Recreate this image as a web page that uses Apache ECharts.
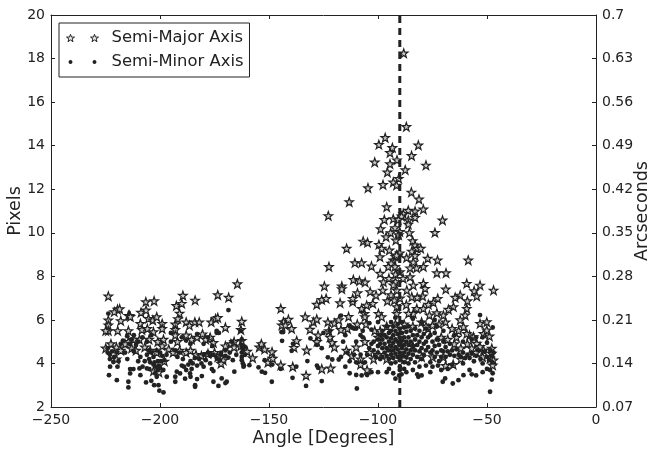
<!DOCTYPE html>
<html><head><meta charset="utf-8">
<style>html,body{margin:0;padding:0;background:#fff}#c{width:649px;height:451px}</style>
<script src="https://cdn.jsdelivr.net/npm/echarts@6/dist/echarts.min.js"></script>
</head><body><div id="c"></div>
<script>
const rightTickLabels = ['0.07','0.14','0.21','0.28','0.35','0.42','0.49','0.56','0.63','0.7'];
const targetAngle = [-90, -90];
const targetPixels = [2, 20];
const majorPoints = [
[-223.7,7.09],[-219.5,6.48],[-221,6.37],[-218.5,6.5],[-223.7,5.99],[-223.7,5.76],[-223.7,5.5],[-224.9,5.5],[-218,5.96],[-219.4,5.5],[-214.5,5.5],[-214.5,6.2],[-214,6.2],[-213.6,6.15],[-206.5,6.83],[-202.7,6.87],[-208.7,6.34],[-206.4,6.45],[-209,5.83],[-205.3,6.06],[-203.3,5.99],[-201.5,6.14],[-199,5.83],[-199,5.6],[-208.3,5.55],[-205.8,5.6],[-203,5.45],[-209.4,5.1],[-205,5.1],[-201,5],[-198.4,5.1],[-214.5,5],[-212,5.1],[-216,4.9],[-224.9,4.7],[-222.5,4.9],[-220,4.75],[-218,4.6],[-213,4.7],[-211,4.6],[-207,4.75],[-204.5,4.6],[-201.5,4.5],[-199,4.8],[-196,4.65],[-194,4.5],[-191,4.6],[-220,4.2],[-203,3.65],[-200.5,3.6],[-198,4.1],
[-193,5.8],[-191,6.3],[-192.5,6.65],[-190,6.75],[-189.5,7.12],[-191.8,6.05],[-188,5.9],[-186.5,5.75],[-193,5.55],[-193,5.3],[-192,5],[-188,5.3],[-185.5,5.1],[-183,5.2],[-180.5,5.35],[-179,5.1],[-177,5.2],[-175.5,4.95],[-184,5.9],[-182,5.9],[-183.9,6.9],[-176.5,5.9],[-174.5,6.05],[-173.5,6.1],[-173.5,7.15],[-168.5,7.03],[-170,5.65],[-164.5,7.65],[-162.5,5.93],[-162.9,5.55],[-162.5,5.05],[-188,4.5],[-186,4.6],[-183.5,4.4],[-181,4.35],[-178,4.45],[-175,4.5],[-173.5,4.3],[-171,4.15],[-172,4],[-170,4.8],[-167.5,4.9],[-166,5],[-166,4.75],[-163,4.8],[-160,4.55],[-157.5,4.25],[-154.5,4.75],[-153.5,4.9],[-152,4.65],[-150.5,4.05],[-148.6,4.53],[-148.3,4.23],
[-144.6,6.52],[-143.4,5.91],[-141.1,6.02],[-144.1,5.76],[-142.5,5.76],[-139.6,5.6],[-133.4,6.14],[-129.6,5.91],[-128.1,6.03],[-131.2,5.56],[-137.3,5.04],[-138.5,4.73],[-132.7,4.61],[-144.6,3.92],[-139.1,3.85],[-133,3.45],[-125.8,3.75],[-121.7,3.78],[-128.1,6.71],[-125.8,6.93],[-123.8,6.98],[-124.6,7.55],[-116.6,7.55],[-116.6,7.42],[-111.3,7.85],[-108.5,7.79],[-105.9,7.73],[-109.4,7.24],[-117.4,6.78],[-111.6,6.83],[-111.6,6.98],[-103.6,7.29],[-100.9,7.13],[-123,5.9],[-120,5.85],[-118,6],[-113.5,6.15],[-122.5,5.5],[-117,5.55],[-114,5.6],[-109.5,5.8],[-105.5,5.8],[-127.5,5.3],[-128,5],[-122,5.2],[-121,4.95],[-120,4.75],[-114.5,4.6],[-110,4.75],[-112,4.35],[-108,4.2],[-108,3.95],[-105,3.7],[-102,4.2],[-106,5],[-100,5.2],[-101.5,5.5],[-99,5.5],[-96,5.7],[-92,5.8],[-88,5.8],[-84,5.7],[-80,5.9],[-77,5.6],[-71,5.2],[-68,5.1],[-64,5.2],[-58,5.3],
[-88.2,18.25],[-87,14.87],[-96.7,14.37],[-99.6,14.05],[-93.4,13.91],[-94.5,13.68],[-81.5,14.02],[-84.6,13.54],[-101.5,13.24],[-94.5,13.16],[-91.3,13.34],[-78,13.1],[-87.5,12.89],[-95.7,12.78],[-90.5,12.49],[-97.7,12.21],[-93,12.32],[-91.5,12.18],[-104.6,12.06],[-84.7,11.86],[-81.2,11.54],[-113.2,11.42],[-96,11.19],[-79.2,11.08],[-122.8,10.78],[-83,10.99],[-86.1,11.03],[-88.4,10.88],[-89.2,10.76],[-83,10.7],[-97.1,10.6],[-93,10.64],[-90.7,10.6],[-86.1,10.58],[-86.1,10.39],[-70.4,10.58],[-73.9,10.01],[-98.8,10.18],[-92.2,10.23],[-90,10.05],[-85.6,10],[-94.2,10],[-96.3,9.81],[-91.8,9.66],[-90.5,9.9],[-106.8,9.61],[-104.8,9.55],[-114.4,9.28],[-99.6,9.46],[-98.3,9.28],[-94.8,9.2],[-84.1,9.63],[-83,9.43],[-82,9.28],[-80.4,9.28],[-99.1,8.89],[-90,9.07],[-91,8.95],[-84.5,9.15],[-83,8.95],[-86.9,8.85],[-77.2,8.82],[-72.7,8.74],[-58.6,8.74],[-110.6,8.62],[-107.5,8.62],[-103,8.47],[-122.5,8.44],[-93,8.74],[-92,8.9],[-91.5,8.97],[-94,8.6],[-95.3,8.44],[-92.2,8.44],[-83.8,8.65],[-79.2,8.44],[-82.3,8.38],[-85.3,8.38],[-99,8.13],[-97.5,7.74],[-97.8,7.36],[-95.7,6.87],[-102.4,6.75],[-105.2,6.67],[-107.5,6.52],[-106.2,6.29],[-106,6.14],[-92,7.75],[-91.4,7.36],[-89.9,7],[-86.8,7.36],[-83.8,7.59],[-85.3,7.97],[-84.5,7.05],[-79.2,7.67],[-78.4,7.44],[-79.5,7.09],[-82,7.03],[-73,8.16],[-68.8,8.16],[-68.9,7.41],[-59.3,7.67],[-53.2,7.59],[-55.9,7.33],[-54.7,7.09],[-47,7.36],[-62.3,7.13],[-64.6,7.03],[-59,6.87],[-72.6,6.98],[-74.6,6.8],[-76.9,6.71],[-65.4,6.6],[-67.7,6.48],[-59.3,6.52],[-82.2,6.52],[-79.2,6.52],[-76.4,6.22],[-73,6.32],[-70,6.22],[-60,6.22],[-99.8,6.29],[-98.3,6.14],[-91.4,6.6],[-91.4,6.29],[-83.8,6.29],[-92,8.1],[-93,7.6],[-95,7.9],[-90,8.2],[-88.5,7.9],[-94,7.15],[-92.5,6.9],[-87,6.7],[-86,6.3],
[-47.8,4.69],[-47.8,4.46],[-48.6,4.23],[-47.1,4.15],[-47.4,3.92],[-51.6,4.61],[-54.7,4.92],[-53.2,4.77],[-56.2,5.22],[-59.3,5.37],[-62.3,6],[-60.8,5.68],[-53.2,5.83],[-50.1,5.91],[-51.6,5.37],[-48.9,5.25],[-50.1,5.53],[-63,5.5],[-66,5.6],[-69,5.9],[-72,5.8],[-75,5.75],[-78,5.7],[-65,4.9],[-62,4.7],[-59,4.9],[-57,4.7],[-55,4.5],[-52,4.3],[-70,4.3],[-75,4.3],[-69,3.9],[-65.5,3.95],[-62,4.2],[-80,4.3],[-84,4.8],[-90,5],[-95,4.7],[-100,4.4],[-104,4.5],[-96,4.2],[-88,4.2]
];
const minorPoints = [
[-223.4,3.46],[-219.8,3.23],[-214.5,3.16],[-214.5,2.9],[-206.4,3.13],[-204,3.2],[-202.7,3],[-200.7,3],[-200.3,2.75],[-198.4,2.67],[-196.9,3.39],[-193,3.16],[-193,3.39],[-188.5,3.3],[-186.2,3.54],[-183.9,3],[-183.9,2.93],[-183,3.28],[-180.8,3.42],[-175.5,3.16],[-173.2,2.97],[-171.7,3.31],[-169.4,3.16],[-170,3.1],[-165.9,3.62],[-161.7,3.85],[-159,3.92],[-154.8,3.82],[-153.3,3.62],[-151.8,3.57],[-219.5,3.85],[-221.4,4.07],[-222.9,3.85],[-213.7,3.74],[-213.7,3.54],[-212.2,3.74],[-209.4,3.77],[-209,3.46],[-206,3.77],[-204.9,3.74],[-202.2,3.54],[-201.5,3.39],[-192.3,3.62],[-190.8,3.54],[-186,3.39],[-180,3.85],[-177,4],[-176.2,3.74],[-175.5,3.65],[-172.7,4.15],[-168.6,4.27],[-166.6,4.15],[-168.6,6.45],[-223.7,6.29],[-174,5.41],[-173,5.4],[-174,5.5],
[-224,4.7],[-224,4.5],[-223,4.4],[-223,4.2],[-222,4.55],[-221,4.3],[-220,4.5],[-219,4.1],[-218,4.9],[-217,5.05],[-215,5.25],[-213,5.1],[-212,4.55],[-211,4.85],[-216,4.5],[-215,4.2],[-210,4.1],[-209,4.3],[-208,3.85],[-207,4.1],[-206,4.4],[-205,4.2],[-204.5,4.05],[-204,4.5],[-203,4.3],[-202.5,4.05],[-202,3.85],[-201.5,4.6],[-201,4.1],[-200.5,3.9],[-200,3.8],[-199.5,4.1],[-199,4.35],[-198.5,3.7],[-198,4.15],[-203,3.95],[-201,3.7],[-205,4.6],[-200,4.5],[-197,4.4],[-195,5],[-193,4.6],[-192,4.3],[-191,4.5],[-190,3.9],[-189.5,4.2],[-189,3.85],[-188,3.7],[-187,3.95],[-186,4.1],[-185.5,3.75],[-185,4],[-184,4.25],[-183,3.9],[-182,4.2],[-181,4],[-180,4.4],[-179,4.15],[-178,4.5],[-177,4.35],[-175.5,4.4],[-174,4.25],[-172,4.5],[-170,4.35],[-168,4.5],[-165,4.4],[-195,5.4],[-190,5.2],[-186,4.9],[-183,5.35],[-188,5.05],[-180,4.9],[-178,5.2],[-176,4.8],[-172,4.4],[-170,4.6],[-167,5],[-163,5.5],[-162.5,5.1],[-162.5,4.8],[-162.5,4.5],[-162.5,4.3],[-162,4.65],[-162.5,4.15],[-162,4],[-161.5,3.9],[-161,4.75],[-161,4.4],[-210,5],[-208,5.2],[-212,5.3],[-214,4.9],[-206,5],[-204,5.3],
[-152,4.15],[-148.7,3.16],[-148.5,3.95],[-144,5.04],[-144.3,5.44],[-143.5,5.44],[-139.6,4.58],[-139,4.9],[-132.4,4.11],[-128,3.9],[-127.5,3.8],[-137.5,3.85],[-144.6,3.75],[-123,4.28],[-121,4.18],[-118,4.18],[-125.8,4.7],[-131,5.15],[-128,4.85],[-125,5.4],[-122,5.5],[-139.2,3.34],[-133,2.97],[-125.8,3.19],[-109.7,2.85],[-115,3.85],[-113,3.55],[-110,3.47],[-107.5,3.45],[-105,3.47],[-103,3.6],[-100,3.6],[-96,3.6],[-95,3.75],[-90,3.85],[-88,3.75],[-87,3.6],[-84,3.7],[-82,3.5],[-81.5,3.39],[-80,3.45],[-76,3.6],[-69.2,3.31],[-70.3,3.16],[-65.7,3.08],[-63.1,3.23],[-60.8,3.46],[-58,3.7],[-57,3.5],[-55,3.45],[-52,3.6],[-50,3.75],[-48.6,2.7],[-47.8,3.26],[-47.4,3.55],[-48.6,3.7],[-53.2,6.22],[-47.4,5.65],[-50,4.95],[-55,5.2],[-117,6.2],[-113,5.75],[-111,5.6],[-112,5.65],[-110,5.6],[-107,5.5],[-103,5.55],[-115,5.3],[-110,5],[-108,5.3],[-107,5.2],[-103,4.9],[-116,5],[-117,4.3],[-114,4.5],[-113,4.1],[-111,4.4],[-110,4.05],[-108,4.4],[-106,4.05],[-105,4.4],[-104,4.7],[-102,5],[-102,4.6],[-101,4.3],[-100,5.1],[-100,4.8],[-100,4.5],[-99,5.3],[-99,4.9],[-99,4.2],[-98,5.5],[-98,5.1],[-98,4.7],[-98,4.3],[-97,5.3],[-97,4.9],[-97,4.5],[-96,5.7],[-96,5.2],[-96,4.7],[-96,4.35],[-95,5.4],[-95,5],[-95,4.6],[-95,4.2],[-94,5.9],[-94,5.5],[-94,5.15],[-94,4.8],[-94,4.4],[-94,4],[-93,5.7],[-93,5.3],[-93,4.95],[-93,4.6],[-93,4.25],[-92,6.1],[-92,5.5],[-92,5.1],[-92,4.75],[-92,4.45],[-92,4.05],[-91,5.8],[-91,5.35],[-91,5],[-91,4.65],[-91,4.3],[-90,5.6],[-90,5.2],[-90,4.85],[-90,4.5],[-90,4.15],[-90,3.7],[-89,5.9],[-89,5.4],[-89,5.05],[-89,4.7],[-89,4.35],[-88,5.65],[-88,5.2],[-88,4.85],[-88,4.5],[-88,4.05],[-87,5.45],[-87,5],[-87,4.65],[-87,4.3],[-86,5.7],[-86,5.2],[-86,4.85],[-86,4.45],[-86,4],[-85,5.5],[-85,5],[-85,4.6],[-85,4.2],[-84,5.3],[-84,4.8],[-84,4.4],[-83,5.6],[-83,5.1],[-83,4.6],[-83,4.05],[-82,5.3],[-82,4.85],[-82,4.3],[-81,5.5],[-81,5],[-81,4.55],[-81,3.85],[-80,5.2],[-80,4.7],[-80,4.2],[-79,5.35],[-79,4.9],[-79,4.4],[-78,5.6],[-78,5],[-78,4.6],[-78,3.9],[-77,5.2],[-77,4.75],[-76,5.3],[-76,4.5],[-76,4.05],[-75,5],[-75,4.6],[-74,5.4],[-74,4.8],[-74,4.3],[-73,5.1],[-73,4.5],[-72,4.85],[-72,4.1],[-71,4.6],[-71,4.3],[-70,5],[-70,4.55],[-69,4.75],[-69,4.3],[-68,4.55],[-67,4.9],[-67,4.4],[-66,4.6],[-66,3.95],[-65,4.35],[-64,4.65],[-63,4.4],[-62,4.3],[-61,4.5],[-61,4],[-60,4.25],[-59,4.4],[-58,4.25],[-57,4.45],[-56,4.1],[-55,4.35],[-54,4.6],[-53,4.2],[-52,4],[-51,4.55],[-50,4.3],[-49,4.15],[-48.5,4.6],[-48,4.35],[-47.5,4.05],[-47,4.5],[-73,5.7],[-70,5.5],[-65,5.3],[-61,5],[-57,5.1],[-52,5.2],[-104,5.85],[-100,5.9],[-84,6.05],[-80,5.9],[-74,6],
[-72.5,3.9],[-71,3.7],[-68,3.75],[-75,3.85],[-90.3,3.45],[-89.2,3.5],[-92,3.3],[-93,3.55]
];
const star = 'M4 0L5 2.8L8 2.8L5.6 4.6L6.5 7.4L4 5.7L1.5 7.4L2.4 4.6L0 2.8L3 2.8Z';
const starSym = 'path://' + star;
const twoStars = 'path://' + star + 'M28 0L29 2.8L32 2.8L29.6 4.6L30.5 7.4L28 5.7L25.5 7.4L26.4 4.6L24 2.8L27 2.8Z';
const twoDots = 'path://M0 0L0 0M32 7.4L32 7.4M2 3.7a2 2 0 1 0 4 0a2 2 0 1 0 -4 0ZM26 3.7a2 2 0 1 0 4 0a2 2 0 1 0 -4 0Z';
const ink = '#222222';
const font = '"DejaVu Sans"';
function xAxisBase(extra){return Object.assign({type:'value',min:-250,max:0,interval:50,splitLine:{show:false},nameMoveOverlap:false,
  axisLine:{onZero:false,lineStyle:{color:ink,width:1}},axisTick:{inside:true,length:4,lineStyle:{color:ink}}},extra);}
const chart = echarts.init(document.getElementById('c'),null,{renderer:'canvas'});
chart.setOption({
  animation:false,backgroundColor:'#fff',
  grid:{left:51,right:53,top:15,bottom:44,containLabel:false,outerBoundsMode:'none'},
  legend:{left:59,top:23,orient:'vertical',padding:[6,6,6,7],itemGap:6,itemWidth:32,itemHeight:7.4,selectedMode:false,
    borderColor:ink,borderWidth:1,backgroundColor:'#fff',
    textStyle:{fontFamily:font,fontSize:16.4,color:ink,padding:[0,0,0,8],lineHeight:18},
    data:[{name:'Semi-Major Axis',icon:twoStars,itemStyle:{color:'#eee',borderColor:ink,borderWidth:1}},
          {name:'Semi-Minor Axis',icon:twoDots,itemStyle:{color:ink,borderColor:ink,borderWidth:0}}]},
  xAxis:[xAxisBase({position:'bottom',name:'Angle [Degrees]',nameLocation:'middle',nameGap:22,
      nameTextStyle:{fontFamily:font,fontSize:17.5,color:ink},
      axisLabel:{fontFamily:font,fontSize:14,color:ink,margin:6,formatter:v=>String(v).replace('-','\u2212')}}),
    xAxisBase({position:'top',axisLabel:{show:false}})],
  yAxis:[{type:'value',min:2,max:20,interval:2,position:'left',splitLine:{show:false},name:'Pixels',nameLocation:'middle',nameGap:27,nameMoveOverlap:false,
      nameTextStyle:{fontFamily:font,fontSize:17.5,color:ink},
      axisLine:{onZero:false,lineStyle:{color:ink,width:1}},axisTick:{inside:true,length:4,lineStyle:{color:ink}},
      axisLabel:{fontFamily:font,fontSize:14,color:ink,margin:6}},
    {type:'value',min:0,max:9,interval:1,position:'right',splitLine:{show:false},name:'Arcseconds',nameLocation:'middle',nameGap:37,nameRotate:90,nameMoveOverlap:false,
      nameTextStyle:{fontFamily:font,fontSize:17.5,color:ink},
      axisLine:{onZero:false,lineStyle:{color:ink,width:1}},axisTick:{inside:true,length:4,lineStyle:{color:ink}},
      axisLabel:{fontFamily:font,fontSize:14,color:ink,margin:6,formatter:v=>rightTickLabels[v]}}],
  series:[
    {name:'Semi-Major Axis',type:'scatter',data:majorPoints,symbol:starSym,symbolSize:8.5,z:2,
     itemStyle:{color:'#ccc',borderColor:ink,borderWidth:1.2,opacity:1}},
    {name:'Semi-Minor Axis',type:'scatter',data:minorPoints,symbol:'circle',symbolSize:4.8,z:3,
     itemStyle:{color:ink,borderWidth:0,opacity:1}},
    {type:'line',data:targetAngle.map((a,i)=>[a,targetPixels[i]]),symbol:'none',z:4,
     lineStyle:{color:ink,width:3,type:[7,5]}}
  ]
});
</script></body></html>
